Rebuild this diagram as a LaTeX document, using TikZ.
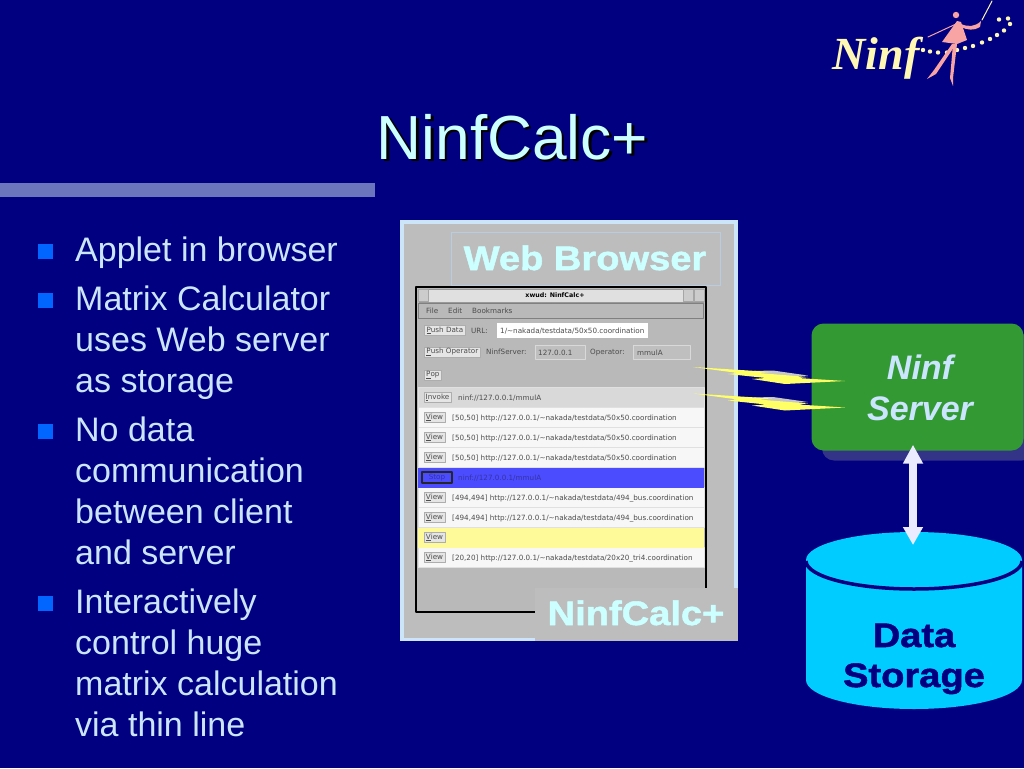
\documentclass[tikz,border=0pt]{standalone}
\usepackage{fontspec}
\setmainfont{Liberation Sans}
\newfontfamily\heavyfont[FakeStretch=1.12,FakeBold=1.5]{Liberation Sans Bold}
\newfontfamily\logofont{Liberation Serif}
\newfontfamily\winfont{DejaVu Sans}
\usetikzlibrary{arrows.meta}
\definecolor{navybg}{HTML}{000080}
\definecolor{barblue}{HTML}{6A75BE}
\definecolor{bulletblue}{HTML}{0066FF}
\definecolor{bodytext}{HTML}{CCE5FF}
\definecolor{titletext}{HTML}{CCFFFF}
\definecolor{panelgray}{HTML}{BDBDBD}
\definecolor{panelrim}{HTML}{CCE5F8}
\definecolor{wingray}{HTML}{B9B9B9}
\definecolor{serverfill}{HTML}{339933}
\definecolor{servershade}{HTML}{333388}
\definecolor{storefill}{HTML}{00CCFF}
\definecolor{boltyellow}{HTML}{FFFF66}
\definecolor{logopink}{HTML}{F8A4A4}
\definecolor{logoyellow}{HTML}{FFF8B4}
\newcommand{\tld}{\symbol{126}}
\tikzset{
  bodyline/.style={anchor=base west,inner sep=0pt,text=bodytext,font=\fontsize{34}{41}\selectfont},
  bulletbox/.style={fill=bulletblue,inner sep=0pt,minimum size=15pt},
  heavylabel/.style={inner sep=0pt,anchor=base,font=\heavyfont\fontsize{34}{41}\selectfont},
  wintext/.style={anchor=base west,inner sep=0pt,text=black!70,font=\winfont\fontsize{7.2}{8}\selectfont},
  rowbox/.style={minimum width=286pt,minimum height=20pt,inner sep=0pt,draw=black!12,line width=0.6pt},
  btnbox/.style={fill=black!10,draw=black!32,line width=0.7pt,inner sep=0pt,minimum height=10pt,text=black!70,font=\winfont\fontsize{7.2}{8}\selectfont},
  menubox/.style={fill=wingray!92!white,draw=black!15,line width=0.6pt,inner sep=0pt,minimum height=14pt},
  winbutton/.style={fill=black!20,draw=black!35,line width=0.5pt,inner sep=0pt,minimum width=10pt,minimum height=12pt},
  bolt/.style={fill=boltyellow},
  boltshade/.style={fill=black!22!white},
}
\begin{document}
\begin{tikzpicture}[line cap=round,line join=round,x=1pt,y=-1pt]
  \useasboundingbox (0,0) rectangle (1024,768);
  \fill[navybg] (0,0) rectangle (1024,768);
  \fill[barblue] (0,183) rectangle (375,197);
  % title
  \node[anchor=base,inner sep=0pt,text=black,font=\fontsize{62.3}{70}\selectfont] (titleshade) at (515,161.5) {NinfCalc+};
  \node[anchor=base,inner sep=0pt,text=titletext,font=\fontsize{62.3}{70}\selectfont] (title) at (512.5,159) {NinfCalc+};
  % bullet list
  \foreach \y in {251,300,431,603}
    \node[bulletbox] (bullet\y) at (45.5,\y) {};
  \foreach \y/\txt in {261/Applet in browser,310/Matrix Calculator,351/uses Web server,392/as storage,
    441/No data,482/communication,523/between client,564/and server,
    613/Interactively,654/control huge,695/matrix calculation,736/via thin line}
    \node[bodyline] (line\y) at (75,\y) {\txt};
  % browser panel
  \fill[panelrim] (400,220) rectangle (738,641);
  \fill[panelgray] (404,224) rectangle (734,638);
  \node[draw=black!10!panelrim,line width=0.6pt,inner sep=0pt,minimum width=269pt,minimum height=53pt] (webbox) at (585.5,258.5) {};
  \node[heavylabel,text=titletext] (weblabel) at (585,270) {Web Browser};
  % window
  \fill[wingray] (416,287) rectangle (706,612);
  \draw[line width=2pt,black,line cap=butt] (535,612) -- (416,612) -- (416,287) -- (706,287) -- (706,588);
  \node[fill=black!12,draw=black!40,line width=0.6pt,inner sep=0pt,minimum width=284pt,minimum height=13pt] (titlebar) at (561,295.5) {};
  \node[winbutton] (closebtn) at (423,295.5) {};
  \node[winbutton] (iconbtn) at (688,295.5) {};
  \node[winbutton] (maxbtn) at (699,295.5) {};
  \node[inner sep=0pt,text=black,font=\winfont\bfseries\fontsize{6.3}{8}\selectfont] (wintitle) at (555,295.5) {xwud: NinfCalc+};
  \node[draw=black!50,fill=wingray,line width=0.8pt,inner sep=0pt,minimum width=285pt,minimum height=15pt] (menubar) at (561,310.5) {};
  \foreach \x/\txt in {426/File,448/Edit,472/Bookmarks}
    \node[wintext] (menu\x) at (\x,313) {\txt};
  % controls
  \node[btnbox,anchor=west,minimum width=41pt] (pushdata) at (424,330.5) {\underline{P}ush Data};
  \node[wintext] (urllabel) at (471,333) {URL:};
  \node[fill=white,inner sep=0pt,minimum width=151pt,minimum height=15pt] (urlfield) at (572.5,330.5) {};
  \node[wintext] (urltext) at (500,333.5) {1/\tld nakada/testdata/50x50.coordination};
  \node[btnbox,anchor=west,minimum width=56pt] (pushop) at (424,352) {\underline{P}ush Operator};
  \node[wintext] (serverfield) at (486,354.5) {NinfServer:};
  \node[menubox,minimum width=50pt] (hostmenu) at (560,352) {};
  \node[wintext] (hosttext) at (538,355.5) {127.0.0.1};
  \node[wintext] (opfield) at (590,354.5) {Operator:};
  \node[menubox,minimum width=57pt] (opmenu) at (661.5,352) {};
  \node[wintext] (optext) at (637,355.5) {mmulA};
  \node[btnbox,anchor=west,minimum width=17pt] (popbtn) at (424,375) {\underline{P}op};
  % rows of the window
  \node[rowbox,fill=black!15!white] (row397) at (561,397.5) {};
  \foreach \y in {417,437,457,497,517,557}
    \node[rowbox,fill=white!97!black] (row\y) at (561,\y.5) {};
  \node[rowbox,fill=blue!70!white,draw=none] (row477) at (561,477.5) {};
  \node[rowbox,fill=yellow!40!white,draw=none] (row537) at (561,537.5) {};
  \node[btnbox,minimum width=27pt] (invoke) at (437.5,397.5) {\underline{I}nvoke};
  \node[wintext] (invoketext) at (458,400) {ninf://127.0.0.1/mmulA};
  \foreach \y in {417,437,457,497,517,537,557}
    \node[btnbox,minimum width=21pt] (view\y) at (434.5,\y.5) {\underline{V}iew};
  \foreach \y/\txt in {417/{[50,50] http://127.0.0.1/\tld nakada/testdata/50x50.coordination},
    437/{[50,50] http://127.0.0.1/\tld nakada/testdata/50x50.coordination},
    457/{[50,50] http://127.0.0.1/\tld nakada/testdata/50x50.coordination},
    497/{[494,494] http://127.0.0.1/\tld nakada/testdata/494\_bus.coordination},
    517/{[494,494] http://127.0.0.1/\tld nakada/testdata/494\_bus.coordination},
    557/{[20,20] http://127.0.0.1/\tld nakada/testdata/20x20\_tri4.coordination}}
    \node[wintext] (rowtext\y) at (452,\y+3) {\txt};
  \node[btnbox,fill=blue!70!white,draw=black!85,line width=1.2pt,minimum width=30pt,minimum height=11pt,text=black!45!blue!80!white] (stopbtn) at (437,477.5) {Stop};
  \node[wintext,text=black!45!blue!80!white] (stoptext) at (458,480) {ninf://127.0.0.1/mmulA};
  % label in the corner
  \fill[panelgray] (535,588) rectangle (738,641);
  \node[heavylabel,text=titletext] (calclabel) at (636,625) {NinfCalc+};
  % server
  \node[fill=servershade,rounded corners=12pt,inner sep=0pt,minimum width=212pt,minimum height=127pt] (servershadow) at (928,397) {};
  \node[fill=serverfill,rounded corners=12pt,inner sep=0pt,minimum width=212pt,minimum height=127pt] (server) at (917.5,387) {};
  \foreach \y/\txt in {379/Ninf,420/Server}
    \node[anchor=base,inner sep=0pt,text=bodytext,font=\bfseries\itshape\fontsize{34}{41}\selectfont] (serverline\y) at (920,\y) {\txt};
  % bolts to the server
  \foreach \s in {0,26.5} {
    \fill[boltshade] (735,371.5+\s) -- (773,370.5+\s) -- (808,375.5+\s) -- (790,377+\s) -- cycle;
    \fill[bolt] (693,367+\s) -- (772,372+\s) -- (758,373+\s) -- (808,377+\s) -- (798,378+\s) -- (845,381+\s)
      -- (785,384+\s) -- (752,379+\s) -- (766,378+\s) -- (728,374+\s) -- (738,373+\s) -- cycle;
  }
  % storage
  \fill[storefill] (806,560) -- (1022,560)
    -- (1022,680) arc[start angle=0,end angle=180,x radius=108,y radius=29] -- cycle;
  \fill[storefill] (914,560) ellipse[x radius=108,y radius=28];
  \draw[navybg,line width=3.5pt,line cap=butt] (806,561) arc[start angle=180,end angle=360,x radius=108,y radius=-28];
  \coordinate (storetop) at (913,532);
  \foreach \y/\txt in {647/Data,687/Storage}
    \node[heavylabel,text=navybg] (storeline\y) at (914,\y) {\txt};
  \draw[{Triangle[length=19pt,width=19pt]}-{Triangle[length=18pt,width=19pt]},line width=8.5pt,color=blue!8!white,line cap=butt,shorten <=-6pt,shorten >=-13pt] (server.south -| storetop) -- (storetop);
  % logo
  \node[anchor=base,inner sep=0pt,text=logoyellow,font=\logofont\bfseries\itshape\fontsize{46}{50}\selectfont] (logotext) at (876,70) {Ninf};
  \foreach \x/\y in {923/50,930/51.5,938/52.5,947/52.5,957/50,965/48,973/46,982/42.5,990/39,997/35,1004/30.5,1010/24,1008/18.5,999/19.5}
    \fill[logoyellow] (\x,\y) circle (2.2);
  \fill[logopink] (956,15) circle (3.2);
  \fill[logopink] (957,21) -- (961,22) -- (967,40) -- (957,44) -- (942,42) -- cycle;
  \fill[logopink] (961,24) .. controls (968,27) and (975,27) .. (981,21) -- (980,27) .. controls (974,31) and (967,30) .. (961,27) -- cycle;
  \draw[logopink,line width=1pt] (956,24) -- (928,37);
  \draw[logoyellow,line width=1pt] (982,20) -- (992,1);
  \fill[logopink] (952,44) -- (956,44) -- (936,74) -- (927,79) -- (934,70) -- cycle;
  \fill[logopink] (953,44) -- (957,44) -- (953,78) -- (953,86) -- (950,78) -- cycle;
\end{tikzpicture}
\end{document}
